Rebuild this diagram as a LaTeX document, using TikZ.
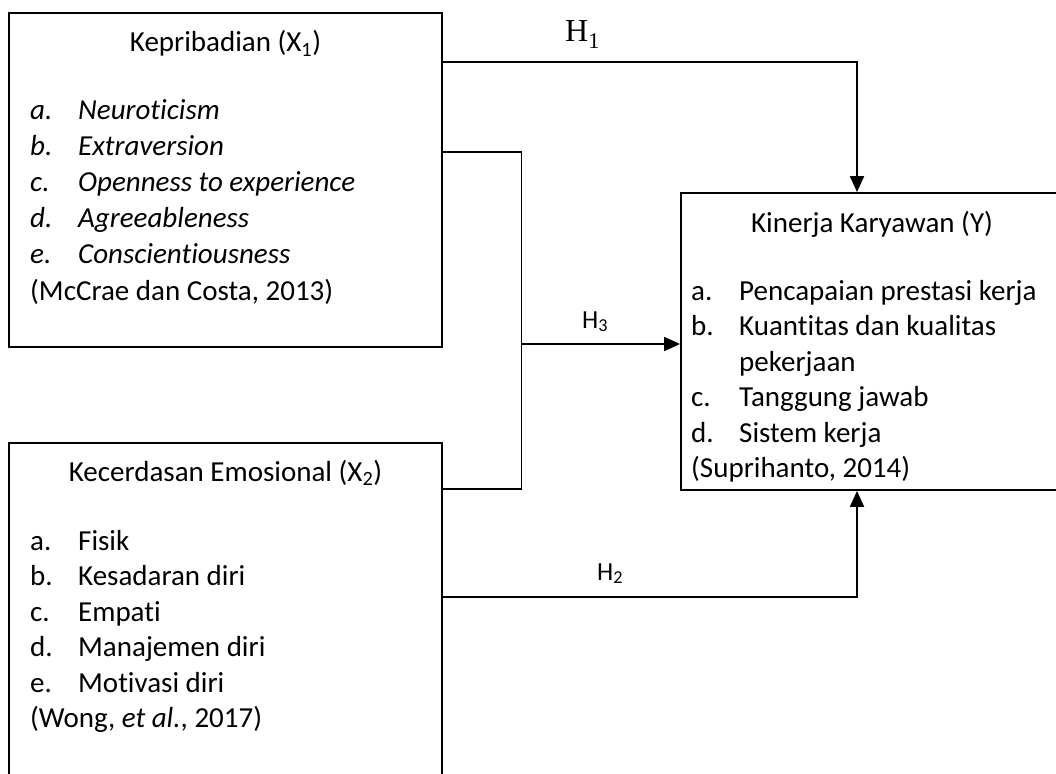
\documentclass[tikz,border=0pt]{standalone}
\usepackage{fontspec}
\setmainfont{Carlito}[Ligatures={NoCommon}, RawFeature={-liga;-dlig;-clig}]
\newfontfamily\hserif{Liberation Serif}
\usetikzlibrary{arrows.meta}
\begin{document}
\begin{tikzpicture}[x=1pt,y=-1pt,
  boxnode/.style={draw, line width=1.8pt, inner sep=0pt, rectangle},
  txt/.style={anchor=base west, inner sep=0pt, font=\fontsize{29}{35}\selectfont},
  ctxt/.style={anchor=base, inner sep=0pt, font=\fontsize{29}{35}\selectfont},
  hlab/.style={anchor=base west, inner sep=0pt, font=\fontsize{26}{30}\selectfont},
  conn/.style={line width=1.8pt},
  arr/.style={conn, -{Triangle[length=16pt,width=14pt]}}]
\useasboundingbox (0,0) rectangle (1056,773);
\clip (0,0) rectangle (1056,773);
% boxes
\node[boxnode, minimum width=433pt, minimum height=334pt] (X1) at (225.5,180) {};
\node[boxnode, minimum width=433pt, minimum height=400pt] (X2) at (225.5,643) {};
\node[boxnode, minimum width=382pt, minimum height=297pt] (Y) at (872,341.5) {};
% X1 text
\node[ctxt] (x1t) at (225.5,52) {Kepribadian (X\textsubscript{1})};
\node[txt] (x1a) at (30,119) {\textit{a.}};
\node[txt] (x1at) at (78,119) {\textit{Neuroticism}};
\node[txt] (x1b) at (30,155) {\textit{b.}};
\node[txt] (x1bt) at (78,155) {\textit{Extraversion}};
\node[txt] (x1c) at (30,191) {\textit{c.}};
\node[txt] (x1ct) at (78,191) {\textit{Openness to experience}};
\node[txt] (x1d) at (30,227) {\textit{d.}};
\node[txt] (x1dt) at (78,227) {\textit{Agreeableness}};
\node[txt] (x1e) at (30,263) {\textit{e.}};
\node[txt] (x1et) at (78,263) {\textit{Conscientiousness}};
\node[txt] (x1s) at (30,300) {(McCrae dan Costa, 2013)};
% X2 text
\node[ctxt] (x2t) at (225.5,481) {Kecerdasan Emosional (X\textsubscript{2})};
\node[txt] (x2a) at (30,550) {a.};
\node[txt] (x2at) at (78,550) {Fisik};
\node[txt] (x2b) at (30,585.5) {b.};
\node[txt] (x2bt) at (78,585.5) {Kesadaran diri};
\node[txt] (x2c) at (30,621) {c.};
\node[txt] (x2ct) at (78,621) {Empati};
\node[txt] (x2d) at (30,656.5) {d.};
\node[txt] (x2dt) at (78,656.5) {Manajemen diri};
\node[txt] (x2e) at (30,692) {e.};
\node[txt] (x2et) at (78,692) {Motivasi diri};
\node[txt] (x2s) at (30,727.5) {(Wong, \textit{et al.}, 2017)};
% Y text
\node[ctxt] (yt) at (872,232) {Kinerja Karyawan (Y)};
\node[txt] (ya) at (691,300) {a.};
\node[txt] (yat) at (739,300) {Pencapaian prestasi kerja};
\node[txt] (yb) at (691,335.5) {b.};
\node[txt] (ybt) at (739,335.5) {Kuantitas dan kualitas};
\node[txt] (ybt2) at (739,371) {pekerjaan};
\node[txt] (yc) at (691,406.5) {c.};
\node[txt] (yct) at (739,406.5) {Tanggung jawab};
\node[txt] (yd) at (691,442) {d.};
\node[txt] (ydt) at (739,442) {Sistem kerja};
\node[txt] (ys) at (691,477.5) {(Suprihanto, 2014)};
% connectors
\coordinate (h1) at (857,62);
\coordinate (h2) at (857,597);
\coordinate (jtop) at (521.5,152);
\coordinate (jbot) at (521.5,489);
\coordinate (jmid) at (521.5,344);
\draw[arr] (X1.east |- h1) -- (h1) -- (h1 |- Y.north);
\draw[arr] (X2.east |- h2) -- (h2) -- (h2 |- Y.south);
\draw[conn] (X1.east |- jtop) -- (jtop) -- (jbot) -- (X2.east |- jbot);
\draw[arr] (jmid) -- (Y.west |- jmid);
% labels
\node[anchor=base west, inner sep=0pt, font=\hserif\fontsize{32}{36}\selectfont] (H1) at (565,42) {H\textsubscript{1}};
\node[hlab] (H3) at (582,328) {H\textsubscript{3}};
\node[hlab] (H2) at (597,580) {H\textsubscript{2}};
\end{tikzpicture}
\end{document}
